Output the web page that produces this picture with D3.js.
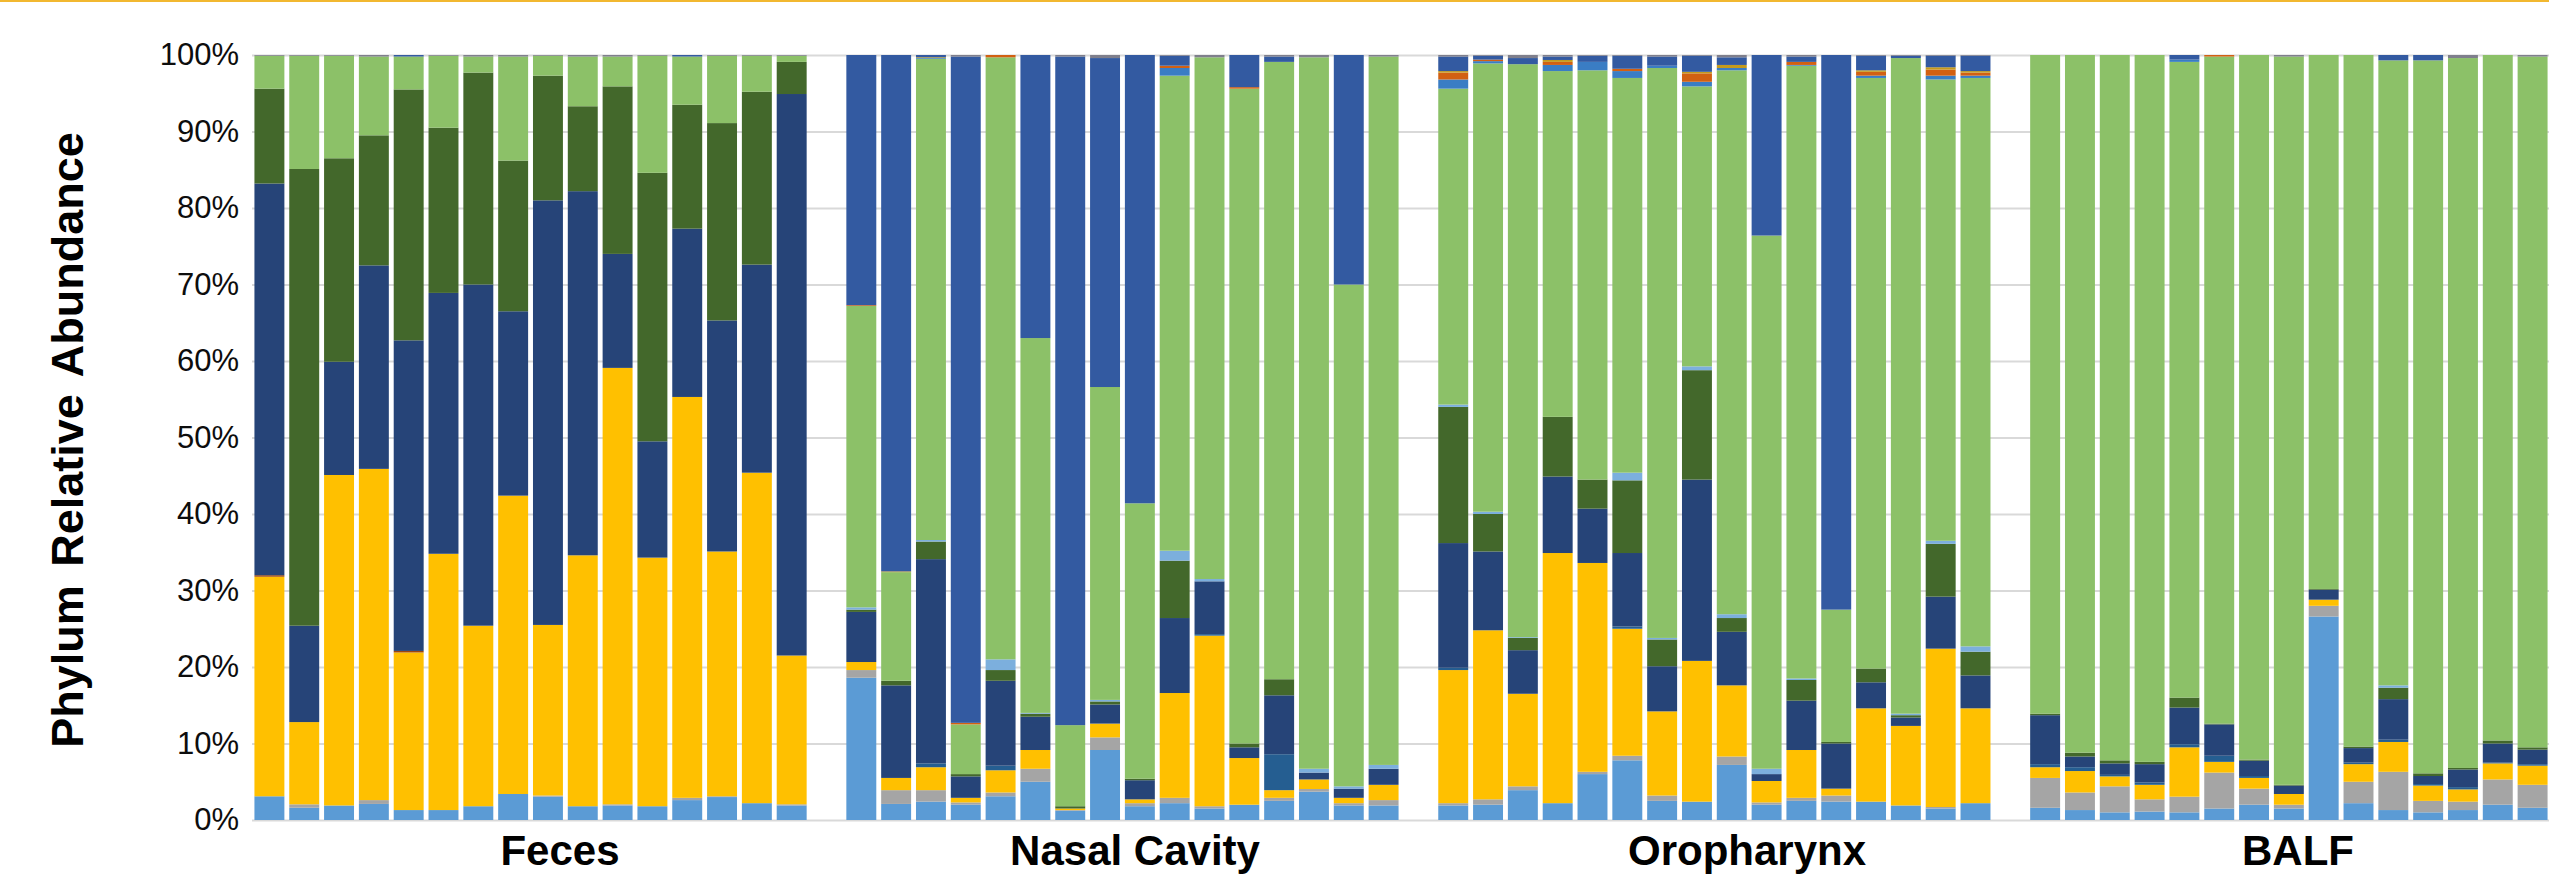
<!DOCTYPE html>
<html>
<head>
<meta charset="utf-8">
<script src="https://cdn.jsdelivr.net/npm/d3@7"></script>
<style>
  html, body { margin: 0; padding: 0; background: #fff; }
  svg { display: block; }
  text { font-family: "Liberation Sans", Arial, sans-serif; }
</style>
</head>
<body>
<svg id="chart"></svg>
<script>
// Sample groups (number of bars visible in each)
const groups = ["Feces", "Nasal Cavity", "Oropharynx", "BALF"];
const groupSizes = [16, 16, 16, 15];
const yTicks = [0, 0.1, 0.2, 0.3, 0.4, 0.5, 0.6, 0.7, 0.8, 0.9, 1];

// Relative abundance (%) per phylum, stack order bottom -> top.
// Each array: Feces x16, Nasal Cavity x16, Oropharynx x16, BALF x15
const phylumA = [
  3.1, 1.6, 1.9, 2.1, 1.3, 1.3, 1.8, 3.4, 3.05, 1.8, 1.9, 1.8, 2.6, 3.0, 2.2, 1.9,
  18.6, 2.1, 2.4, 2.0, 3.1, 5.0, 1.2, 9.15, 1.8, 2.2, 1.5, 2.0, 2.5, 3.7, 1.9, 1.9,
  1.9, 2.0, 3.9, 2.2, 6.0, 7.8, 2.5, 2.4, 7.2, 2.0, 2.5, 2.4, 2.4, 1.9, 1.5, 2.2,
  1.6, 1.3, 1.0, 1.1, 1.0, 1.5, 2.0, 1.5, 26.6, 2.2, 1.3, 1.0, 1.3, 2.0, 1.6
];
const phylumB = [
  0, 0.45, 0, 0.5, 0, 0, 0, 0, 0.15, 0, 0.15, 0, 0.3, 0.1, 0, 0.15,
  1.0, 1.8, 1.5, 0.3, 0.5, 1.7, 0.1, 1.65, 0.4, 0.7, 0.3, 0, 0.4, 0.35, 0.3, 0.7,
  0.3, 0.7, 0.5, 0, 0.3, 0.6, 0.7, 0, 1.1, 0.3, 0.4, 0.8, 0, 0, 0.2, 0,
  3.9, 2.3, 3.4, 1.6, 2.05, 4.7, 2.1, 0.5, 1.4, 2.8, 5.0, 1.5, 1.1, 3.3, 3.0
];
const phylumC = [
  28.7, 10.75, 43.2, 43.3, 20.6, 33.5, 23.6, 39.0, 22.3, 32.8, 57.05, 32.5, 52.4, 32.0, 43.2, 19.45,
  1.05, 1.6, 3.0, 0.6, 2.9, 2.45, 0.2, 1.8, 0.5, 13.7, 22.3, 6.1, 1.0, 1.25, 0.7, 2.0,
  17.4, 22.1, 12.1, 32.7, 27.3, 16.6, 11.0, 18.4, 9.3, 2.8, 6.25, 0.9, 12.2, 10.4, 20.7, 12.4,
  1.4, 2.8, 1.3, 1.9, 6.45, 1.4, 1.4, 1.4, 0.8, 2.3, 3.9, 2.0, 1.6, 2.1, 2.5
];
const phylumD = [
  0.2, 0, 0, 0, 0.2, 0, 0, 0, 0, 0, 0, 0, 0, 0, 0, 0,
  0, 0, 0, 0, 0, 0, 0, 0, 0, 0, 0, 0, 0, 0, 0, 0,
  0, 0, 0, 0, 0, 0, 0, 0, 0, 0, 0, 0, 0, 0, 0, 0,
  0, 0, 0, 0, 0, 0, 0, 0, 0, 0, 0, 0, 0, 0, 0
];
const phylumE = [
  0, 0, 0, 0, 0, 0, 0, 0, 0, 0, 0, 0, 0, 0, 0, 0,
  0, 0, 0.5, 0, 0.6, 0, 0, 0, 0, 0, 0.2, 0, 4.7, 0, 0, 0,
  0.3, 0, 0, 0, 0, 0.3, 0, 0, 0, 0, 0, 0, 0, 0, 0, 0,
  0.4, 0.5, 0.2, 0.3, 0.4, 0.8, 0.25, 0, 0, 0.2, 0.3, 0.2, 0.3, 0.1, 0.2
];
const phylumF = [
  51.2, 12.6, 14.8, 26.6, 40.6, 34.1, 44.6, 24.1, 55.5, 47.6, 14.9, 15.2, 22.0, 30.2, 27.2, 73.4,
  6.55, 12.1, 26.7, 2.8, 11.1, 4.35, 0, 2.5, 2.5, 9.8, 6.9, 1.4, 7.7, 0.9, 1.2, 2.1,
  16.3, 10.3, 5.7, 10.0, 7.1, 9.6, 5.9, 23.7, 7.0, 0.9, 6.45, 5.9, 3.4, 1.1, 6.8, 4.3,
  6.4, 1.4, 1.5, 2.4, 4.8, 4.1, 2.0, 1.1, 1.3, 1.9, 5.3, 1.05, 2.3, 2.5, 1.9
];
const phylumG = [
  12.4, 59.7, 26.6, 17.0, 32.8, 21.6, 27.7, 19.7, 16.3, 11.1, 21.9, 35.1, 16.2, 25.8, 22.6, 4.2,
  0.3, 0.6, 2.3, 0.3, 1.4, 0.4, 0.3, 0.4, 0.2, 7.5, 0, 0.5, 2.1, 0, 0, 0,
  17.8, 4.9, 1.6, 7.8, 3.8, 9.5, 3.5, 14.3, 1.8, 0, 2.7, 0.2, 1.8, 0.3, 6.9, 3.1,
  0.2, 0.5, 0.4, 0.3, 1.3, 0.1, 0.15, 0.1, 0.1, 0.2, 1.5, 0.35, 0.2, 0.4, 0.3
];
const phylumH = [
  0, 0, 0, 0, 0, 0, 0, 0, 0, 0, 0, 0, 0, 0, 0, 0,
  0.3, 0, 0.2, 0, 1.4, 0.1, 0, 0.2, 0, 1.3, 0.3, 0, 0, 0.5, 0.3, 0.5,
  0.3, 0.3, 0.1, 0, 0, 1.0, 0.2, 0.5, 0.5, 0.7, 0.2, 0, 0, 0.2, 0.4, 0.7,
  0, 0, 0, 0, 0, 0, 0, 0, 0, 0, 0.3, 0, 0, 0, 0
];
const phylumI = [
  4.3, 14.8, 13.4, 10.3, 4.3, 9.4, 2.1, 13.6, 2.6, 6.5, 3.9, 15.3, 6.3, 8.8, 4.7, 0.8,
  39.4, 14.2, 62.9, 6.5, 78.7, 49.0, 10.6, 40.9, 36.0, 62.1, 68.2, 85.6, 80.7, 93.0, 65.6, 92.6,
  41.3, 58.6, 74.9, 45.2, 53.5, 51.6, 74.5, 36.6, 71.1, 69.7, 80.1, 17.3, 77.2, 85.7, 60.3, 74.3,
  86.1, 91.2, 92.2, 92.4, 83.1, 87.2, 92.1, 95.2, 69.8, 90.4, 81.7, 93.2, 92.8, 89.6, 90.3
];
const phylumJ = [
  0, 0, 0, 0, 0, 0, 0, 0, 0, 0, 0, 0, 0, 0, 0, 0,
  0, 0, 0.1, 0, 0, 0, 0, 0, 0, 1.0, 0, 0, 0, 0, 0, 0,
  1.2, 0.3, 0, 0.8, 1.1, 0.9, 0.3, 0.6, 0.3, 0, 0.1, 0, 0.3, 0, 0.5, 0.3,
  0, 0, 0, 0, 0.3, 0, 0, 0, 0, 0, 0, 0, 0, 0, 0
];
const phylumK = [
  0, 0, 0, 0, 0, 0, 0, 0, 0, 0, 0, 0, 0, 0, 0, 0,
  0.1, 0, 0, 0.2, 0.3, 0, 0, 0, 0, 0.3, 0, 0.2, 0, 0, 0, 0,
  0.9, 0.2, 0, 0.4, 0, 0.3, 0, 1.1, 0, 0, 0.4, 0, 0.5, 0, 0.8, 0.4,
  0, 0, 0, 0, 0, 0.2, 0, 0, 0, 0, 0, 0, 0, 0, 0
];
const phylumL = [
  0, 0, 0, 0, 0, 0, 0, 0, 0, 0, 0, 0, 0, 0, 0, 0,
  0, 0.1, 0.1, 0, 0, 0, 0, 0, 0, 0, 0, 0, 0, 0, 0, 0,
  0.2, 0, 0, 0.25, 0, 0, 0, 0.2, 0.4, 0, 0, 0, 0.2, 0, 0.3, 0.2,
  0, 0, 0, 0, 0, 0, 0, 0, 0, 0, 0, 0, 0, 0, 0
];
const phylumM = [
  0, 0, 0, 0, 0.2, 0, 0, 0, 0, 0, 0, 0, 0.2, 0, 0, 0,
  32.7, 67.5, 0.3, 87.1, 0, 37.0, 87.4, 43.0, 58.6, 1.3, 0, 4.2, 0.7, 0, 30.0, 0,
  1.9, 0.5, 0.8, 0.45, 0.8, 1.7, 1.2, 2.1, 1.0, 23.6, 0.7, 72.5, 1.9, 0.3, 1.5, 2.0,
  0, 0, 0, 0, 0.6, 0, 0, 0, 0, 0, 0.7, 0.7, 0, 0, 0
];
const others = [
  0.1, 0.1, 0.1, 0.2, 0, 0.1, 0.2, 0.2, 0.1, 0.2, 0.2, 0.1, 0, 0.1, 0.1, 0.1,
  0, 0, 0, 0.2, 0, 0, 0.2, 0.4, 0, 0.1, 0.3, 0, 0.2, 0.3, 0, 0.2,
  0.2, 0.1, 0.4, 0.2, 0.1, 0.1, 0.2, 0.1, 0.3, 0, 0.2, 0, 0.1, 0.1, 0.1, 0.1,
  0, 0, 0, 0, 0, 0, 0, 0.2, 0, 0, 0, 0, 0.4, 0, 0.2
];

const seriesNames = ["A", "B", "C", "D", "E", "F", "G", "H", "I", "J", "K", "L", "M", "Other"];
const seriesValues = [phylumA, phylumB, phylumC, phylumD, phylumE, phylumF, phylumG,
  phylumH, phylumI, phylumJ, phylumK, phylumL, phylumM, others];
const seriesColors = ["#5B9BD5", "#A5A5A5", "#FFC000", "#9E480E", "#255E91", "#264478", "#43682B",
  "#7CAFDD", "#8CC168", "#3A7DC4", "#D26012", "#C49A1C", "#335AA1", "#7F7F8C"];

const width = 2549;
const height = 875;
const margin = { top: 55, bottom: 820, left: 252, right: 2550 };

const svg = d3.select("#chart").attr("width", width).attr("height", height);

// Build sample list + slot domain (one empty slot between groups)
const samples = [];
const slots = [];
groups.forEach((g, gi) => {
  for (let i = 0; i < groupSizes[gi]; i++) {
    const id = `${g}-${i + 1}`;
    samples.push({ id, group: g });
    slots.push(id);
  }
  if (gi < groups.length - 1) slots.push(`gap-${gi}`);
});

const rows = samples.map((s, i) => {
  const row = { id: s.id, group: s.group };
  seriesNames.forEach((name, k) => { row[name] = seriesValues[k][i]; });
  return row;
});

const x = d3.scaleBand()
  .domain(slots)
  .range([margin.left, margin.right])
  .paddingInner(0.14)
  .paddingOuter(0.07);

const y = d3.scaleLinear().domain([0, 1]).range([margin.bottom, margin.top]);

const color = d3.scaleOrdinal().domain(seriesNames).range(seriesColors);

// top accent rule
svg.append("rect")
  .attr("x", 0).attr("y", 0)
  .attr("width", width).attr("height", 2)
  .attr("fill", "#F2B830");

// gridlines
const grid = svg.append("g")
  .attr("transform", `translate(${margin.left},0)`)
  .call(d3.axisLeft(y).tickValues(yTicks).tickSize(-(width - margin.left)).tickFormat(""));
grid.select(".domain").remove();
grid.selectAll("line").attr("stroke", "#D9D9D9").attr("stroke-width", 2);

// y axis labels
const yAxis = svg.append("g")
  .attr("transform", `translate(${margin.left},0)`)
  .call(d3.axisLeft(y).tickValues(yTicks).tickFormat(d3.format(".0%")).tickSize(0).tickPadding(13));
yAxis.select(".domain").remove();
yAxis.selectAll("text")
  .attr("fill", "#0d0d0d")
  .style("font-size", "31px")
  .style("font-family", "'Liberation Sans', Arial, sans-serif");

// stacked bars (100% stacked)
const stacked = d3.stack().keys(seriesNames).offset(d3.stackOffsetExpand)(rows);

svg.append("g")
  .selectAll("g")
  .data(stacked)
  .join("g")
  .attr("fill", (d) => color(d.key))
  .selectAll("rect")
  .data((d) => d.filter((p) => p[1] - p[0] > 0))
  .join("rect")
  .attr("x", (d) => x(d.data.id))
  .attr("y", (d) => y(d[1]))
  .attr("width", x.bandwidth())
  .attr("height", (d) => y(d[0]) - y(d[1]));

// group labels
const groupLabelX = { "Feces": 560, "Nasal Cavity": 1135, "Oropharynx": 1747, "BALF": 2298 };
svg.append("g")
  .selectAll("text")
  .data(groups)
  .join("text")
  .attr("x", (d) => groupLabelX[d])
  .attr("y", 865)
  .attr("text-anchor", "middle")
  .style("font-size", "42px")
  .style("font-weight", "bold")
  .attr("fill", "#000")
  .text((d) => d);

// y axis title
svg.append("text")
  .attr("transform", "translate(83,440) rotate(-90)")
  .attr("text-anchor", "middle")
  .style("font-size", "45px")
  .style("font-weight", "bold")
  .style("word-spacing", "6px")
  .attr("fill", "#000")
  .text("Phylum Relative Abundance");
</script>
</body>
</html>
